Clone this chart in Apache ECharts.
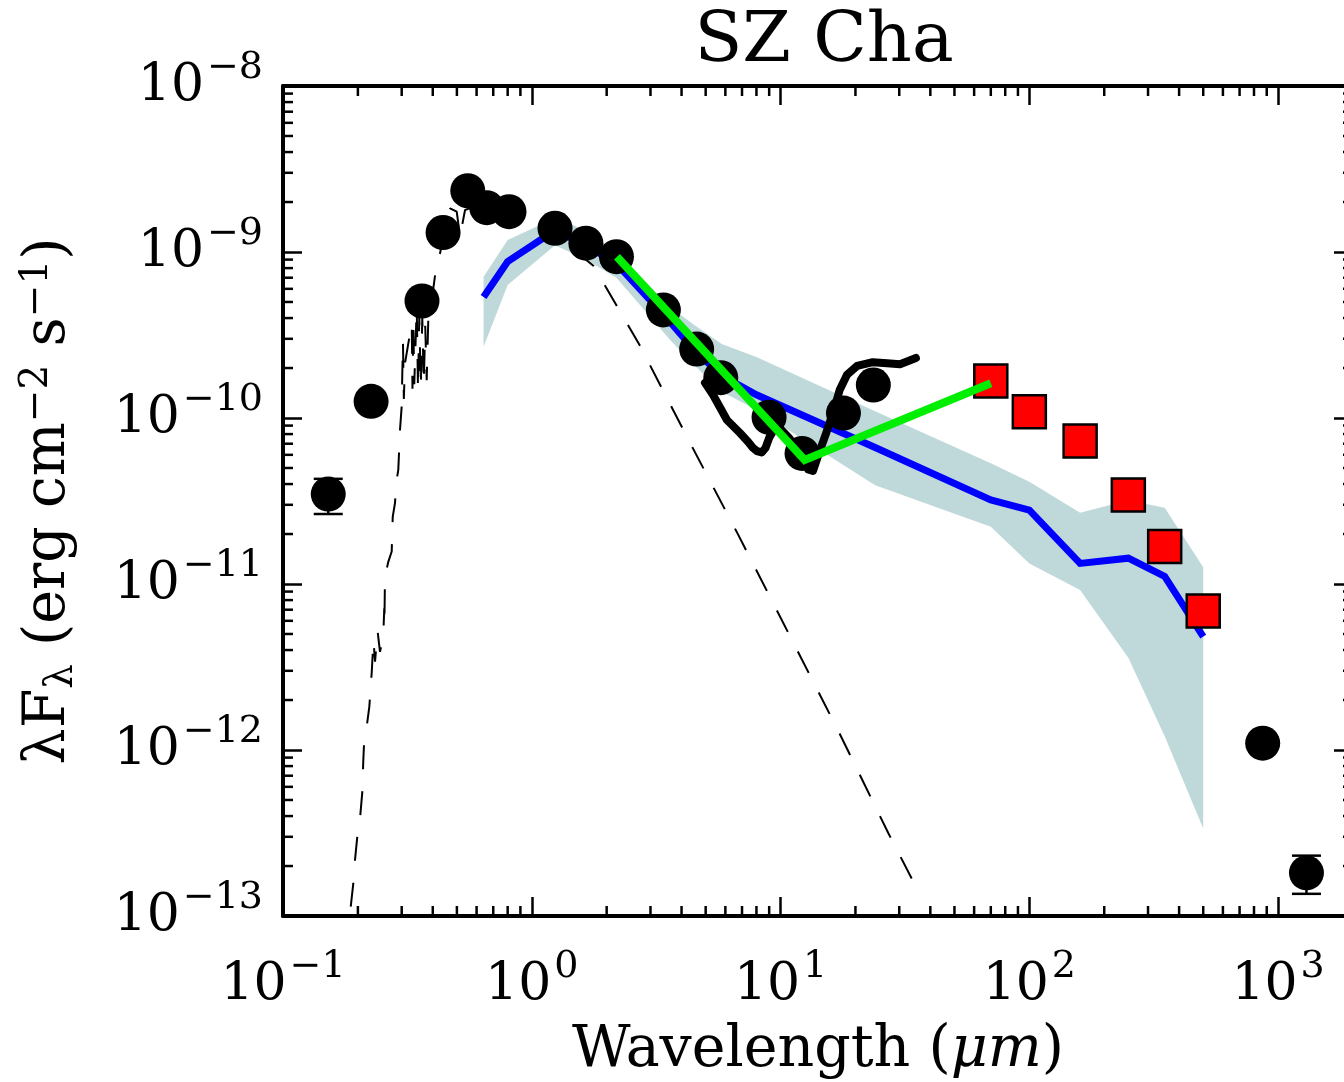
<!DOCTYPE html>
<html>
<head>
<meta charset="utf-8">
<title>SZ Cha</title>
<script src="https://cdn.jsdelivr.net/npm/echarts@6/dist/echarts.min.js"></script>
<style>
  html, body { margin: 0; padding: 0; background: #ffffff; }
  #chart { width: 1344px; height: 1082px; }
</style>
</head>
<body>
<div id="chart"></div>
<script>
// Wavelengths in micron, fluxes as lambda*F_lambda in erg cm^-2 s^-1

// Broadband photometry
const photWave = [0.152, 0.226, 0.362, 0.44, 0.553, 0.659, 0.81, 1.24, 1.65, 2.19,
                  3.38, 4.6, 5.75, 8.99, 12.2, 17.9, 23.6, 867, 1300];
const photFlux = [3.48e-11, 1.26e-10, 5.07e-10, 1.31e-9, 2.34e-9, 1.85e-9, 1.75e-9, 1.39e-9, 1.13e-9, 9.37e-10,
                  4.48e-10, 2.6e-10, 1.75e-10, 1.01e-10, 6.12e-11, 1.07e-10, 1.58e-10, 1.1e-12, 1.82e-13];

// Photometry with error bars
const errWave = [0.152, 1300];
const errLow  = [2.64e-11, 1.36e-13];
const errHigh = [4.3e-11, 2.31e-13];

// Herschel PACS / SPIRE photometry
const herschelWave = [70, 100, 160, 250, 350, 500];
const herschelFlux = [1.67e-10, 1.09e-10, 7.26e-11, 3.44e-11, 1.68e-11, 6.87e-12];

// Median disk SED and its spread
const modelWave   = [0.64, 0.80, 1.24, 1.65, 2.19, 3.6, 4.5, 5.8, 8.0, 24, 70, 100, 160, 250, 350, 500];
const modelMedian = [5.36e-10, 8.75e-10, 1.35e-9, 1.1e-9, 8.5e-10, 3.79e-10, 2.57e-10, 1.8e-10, 1.38e-10,
                     6.64e-11, 3.21e-11, 2.79e-11, 1.33e-11, 1.43e-11, 1.11e-11, 4.82e-12];
const modelUpper  = [7.1e-10, 1.18e-9, 1.6e-9, 1.35e-9, 1.0e-9, 4.67e-10, 3.63e-10, 2.79e-10, 2.33e-10,
                     1.1e-10, 5.33e-11, 4.13e-11, 2.69e-11, 3.2e-11, 2.88e-11, 1.26e-11];
const modelLower  = [2.69e-10, 6.32e-10, 1.1e-9, 9.0e-10, 7.0e-10, 2.95e-10, 2.08e-10, 1.44e-10, 1.12e-10,
                     3.94e-11, 2.21e-11, 1.33e-11, 9.2e-12, 3.6e-12, 1.21e-12, 3.37e-13];

// Stellar photosphere model
const photosphereWave = [0.1872, 0.1917, 0.1947, 0.1989, 0.204, 0.2084, 0.2103, 0.2122, 0.217, 0.2223,
                         0.2238, 0.2274, 0.231, 0.2344, 0.240, 0.2454, 0.2529, 0.2553, 0.2556, 0.257,
                         0.265, 0.2735, 0.2761, 0.2818, 0.2864, 0.2907, 0.2953, 0.2999, 0.3035, 0.306,
                         0.3093, 0.3292, 0.3315, 0.334, 0.337, 0.3448, 0.349, 0.353, 0.358, 0.363,
                         0.368, 0.373, 0.3781, 0.3837, 0.3961, 0.4149, 0.4277, 0.4692, 0.4992, 0.5147,
                         0.5392, 0.6, 0.8, 1.01, 1.25, 1.768, 2.724, 4.26, 6.77, 10.75,
                         17.08, 27.1, 34.7];
const photosphereFlux = [1.14e-13, 1.57e-13, 2.17e-13, 3.01e-13, 3.88e-13, 5.61e-13, 8.71e-13, 1.18e-12, 1.38e-12, 1.82e-12,
                         2.09e-12, 2.96e-12, 4.6e-12, 3.4e-12, 5.2e-12, 3.9e-12, 4.82e-12, 7.15e-12, 5.66e-12, 1.11e-11,
                         1.36e-11, 1.57e-11, 2.54e-11, 3.06e-11, 4.24e-11, 4.87e-11, 8.47e-11, 1.17e-10, 2.9e-10, 1.3e-10,
                         2.14e-10, 3.72e-10, 1.5e-10, 3.9e-10, 1.6e-10, 4.68e-10, 1.45e-10, 4.1e-10, 1.55e-10, 4.0e-10,
                         1.6e-10, 3.6e-10, 1.69e-10, 3.89e-10, 5.14e-10, 8.55e-10, 9.82e-10, 1.83e-9, 1.75e-9, 1.24e-9,
                         1.79e-9, 1.9e-9, 1.8e-9, 1.6e-9, 1.26e-9, 8.27e-10, 2.72e-10, 7.41e-11, 1.97e-11, 5.07e-12,
                         1.3e-12, 3.16e-13, 1.54e-13];

// Spitzer IRS spectrum
const irsWave = [4.97, 5.35, 6.09, 6.87, 7.4, 7.75, 8.04, 8.4, 8.7, 9.0, 9.4, 10.0, 10.8, 11.6,
                 12.3, 12.9, 13.5, 14.3, 15.2, 16.3, 17.3, 18.5, 20.3, 23.5, 26.8, 30.2, 33.2, 35.0];
const irsFlux = [1.63e-10, 1.38e-10, 9.73e-11, 8.12e-11, 7.2e-11, 6.6e-11, 6.32e-11, 6.2e-11, 6.6e-11, 7.6e-11,
                 8.5e-11, 8.6e-11, 7.6e-11, 6.6e-11, 5.8e-11, 4.9e-11, 4.8e-11, 6.2e-11, 8.0e-11, 1.09e-10,
                 1.48e-10, 1.82e-10, 2.06e-10, 2.17e-10, 2.14e-10, 2.11e-10, 2.23e-10, 2.3e-10];

// Broken power-law slopes
const slopeWave = [2.2, 12.5, 70];
const slopeFlux = [9.37e-10, 5.58e-11, 1.62e-10];

// Axis ranges and decade tick values
const xRange = [0.1, 2000];
const yRange = [1e-13, 1e-8];
const xTickValues = [0.1, 1, 10, 100, 1000];
const yTickValues = [1e-13, 1e-12, 1e-11, 1e-10, 1e-9, 1e-8];

const SERIF = "'DejaVu Serif', 'Liberation Serif', serif";
const MINUS = '\u2212';

const zip = (xs, ys) => xs.map((x, i) => [x, ys[i]]);

// minor ticks at 2..9 times each decade
function minorValues(decades, lo, hi) {
  const out = [];
  decades.forEach(d => {
    for (let k = 2; k <= 9; k++) {
      const v = d * k;
      if (v > lo && v < hi * 1.0001) out.push(v);
    }
  });
  return out;
}
const xMinor = minorValues(xTickValues, xRange[0], xRange[1]);
const yMinor = minorValues(yTickValues, yRange[0], yRange[1]);

function isDecade(v, list) {
  return list.some(t => Math.abs(v - t) / t < 1e-6);
}
function powerLabel(list) {
  return function (v) {
    if (!isDecade(v, list)) return '';
    const e = Math.round(Math.log10(v));
    return '{b|10}{s|' + (e < 0 ? MINUS + (-e) : String(e)) + '}';
  };
}
const labelRich = {
  b: { fontFamily: SERIF, fontSize: 52, lineHeight: 74, color: '#000', padding: [0, 3, 0, 0] },
  s: { fontFamily: SERIF, fontSize: 38, lineHeight: 38, verticalAlign: 'top', color: '#000' }
};

const axisLineStyle = { show: true, lineStyle: { color: '#000', width: 4 } };
const majorTick = { show: true, inside: true, length: 19, lineStyle: { color: '#000', width: 2.5 } };

function baseLogAxis(range) {
  return {
    type: 'log', logBase: 10, min: range[0], max: range[1],
    axisLine: axisLineStyle, axisTick: majorTick,
    splitLine: { show: false }, minorTick: { show: false }, minorSplitLine: { show: false }
  };
}

const chart = echarts.init(document.getElementById('chart'), null, { renderer: 'canvas' });

const option = {
  animation: false,
  backgroundColor: '#ffffff',
  title: {
    text: 'SZ Cha', left: 819, top: 3, textAlign: 'center',
    textStyle: { fontFamily: SERIF, fontSize: 70, fontWeight: 'normal', color: '#000' }
  },
  grid: { left: 283, top: 86, width: 1070, height: 830, containLabel: false, outerBoundsMode: 'none' },
  xAxis: [
    Object.assign(baseLogAxis(xRange), {
      position: 'bottom',
      name: '{t|Wavelength (}{i|μm}{t|)}',
      nameLocation: 'middle', nameGap: 107,
      nameTextStyle: {
        rich: {
          t: { fontFamily: SERIF, fontSize: 57, color: '#000' },
          i: { fontFamily: SERIF, fontSize: 57, fontStyle: 'italic', color: '#000' }
        }
      },
      axisLabel: { show: true, margin: 32, formatter: powerLabel(xTickValues), rich: labelRich, showMaxLabel: false }
    }),
    Object.assign(baseLogAxis(xRange), { position: 'top', axisLabel: { show: false } })
  ],
  yAxis: [
    Object.assign(baseLogAxis(yRange), {
      position: 'left',
      name: '{t|λF}{sub|λ}{t| (erg cm}{sup|' + MINUS + '2}{t| s}{sup|' + MINUS + '1}{t|)}',
      nameLocation: 'middle', nameRotate: 90, nameGap: 202,
      nameTextStyle: {
        rich: {
          t: { fontFamily: SERIF, fontSize: 57, lineHeight: 64, color: '#000' },
          sub: { fontFamily: SERIF, fontSize: 39, lineHeight: 39, verticalAlign: 'bottom', color: '#000' },
          sup: { fontFamily: SERIF, fontSize: 39, lineHeight: 39, verticalAlign: 'top', color: '#000' }
        }
      },
      axisLabel: { show: true, margin: 20, formatter: powerLabel(yTickValues), rich: labelRich }
    }),
    Object.assign(baseLogAxis(yRange), { position: 'right', axisLabel: { show: false } })
  ],
  series: [
    {
      // spread of the disk models
      name: 'model range', type: 'custom', xAxisIndex: 0, yAxisIndex: 0,
      clip: true, silent: true, z: 1,
      data: [[modelWave[0], modelMedian[0]]],
      renderItem: function (params, api) {
        const pts = [];
        modelWave.forEach((w, i) => pts.push(api.coord([w, modelUpper[i]])));
        for (let i = modelWave.length - 1; i >= 0; i--) pts.push(api.coord([modelWave[i], modelLower[i]]));
        return { type: 'polygon', shape: { points: pts }, style: { fill: '#bfd9da', stroke: null } };
      }
    },
    {
      name: 'median model', type: 'line', z: 2,
      data: zip(modelWave, modelMedian),
      symbol: 'none', lineStyle: { color: '#0000ff', width: 7, join: 'miter' }
    },
    {
      name: 'photosphere', type: 'line', z: 2,
      data: zip(photosphereWave, photosphereFlux),
      symbol: 'none', lineStyle: { color: '#000', width: 2, type: [24, 22] }
    },
    {
      name: 'IRS', type: 'line', z: 2,
      data: zip(irsWave, irsFlux),
      symbol: 'none', lineStyle: { color: '#000', width: 8, join: 'round', cap: 'round' }
    },
    {
      name: 'errors', type: 'custom', z: 3, silent: true,
      data: errWave.map((w, i) => [w, errLow[i], errHigh[i]]),
      renderItem: function (params, api) {
        const lo = api.coord([api.value(0), api.value(1)]);
        const hi = api.coord([api.value(0), api.value(2)]);
        const st = { stroke: '#000', lineWidth: 2.5 };
        return {
          type: 'group', children: [
            { type: 'line', shape: { x1: lo[0], y1: lo[1], x2: hi[0], y2: hi[1] }, style: st },
            { type: 'line', shape: { x1: lo[0] - 14.5, y1: lo[1], x2: lo[0] + 14.5, y2: lo[1] }, style: st },
            { type: 'line', shape: { x1: hi[0] - 14.5, y1: hi[1], x2: hi[0] + 14.5, y2: hi[1] }, style: st }
          ]
        };
      }
    },
    {
      name: 'photometry', type: 'scatter', z: 3,
      data: zip(photWave, photFlux),
      symbol: 'circle', symbolSize: 35, itemStyle: { color: '#000', opacity: 1 }
    },
    {
      name: 'Herschel', type: 'scatter', z: 3,
      data: zip(herschelWave, herschelFlux),
      symbol: 'rect', symbolSize: 33, itemStyle: { color: '#ff0000', borderColor: '#000', borderWidth: 2.5, opacity: 1 }
    },
    {
      name: 'slopes', type: 'line', z: 4,
      data: zip(slopeWave, slopeFlux),
      symbol: 'none', lineStyle: { color: '#00ee00', width: 8, join: 'miter' }
    },
    {
      // minor ticks on all four sides
      name: 'minor ticks', type: 'custom', z: 5, silent: true, clip: false,
      data: [[1, 1e-10]],
      renderItem: function (params, api) {
        const cs = params.coordSys;
        const st = { stroke: '#000', lineWidth: 2.5 };
        const kids = [];
        xMinor.forEach(v => {
          const x = api.coord([v, yRange[0]])[0];
          kids.push({ type: 'line', shape: { x1: x, y1: cs.y + cs.height, x2: x, y2: cs.y + cs.height - 10 }, style: st });
          kids.push({ type: 'line', shape: { x1: x, y1: cs.y, x2: x, y2: cs.y + 10 }, style: st });
        });
        yMinor.forEach(v => {
          const y = api.coord([xRange[0], v])[1];
          kids.push({ type: 'line', shape: { x1: cs.x, y1: y, x2: cs.x + 10, y2: y }, style: st });
          kids.push({ type: 'line', shape: { x1: cs.x + cs.width, y1: y, x2: cs.x + cs.width - 10, y2: y }, style: st });
        });
        return { type: 'group', children: kids };
      }
    }
  ]
};

chart.setOption(option);
</script>
</body>
</html>
